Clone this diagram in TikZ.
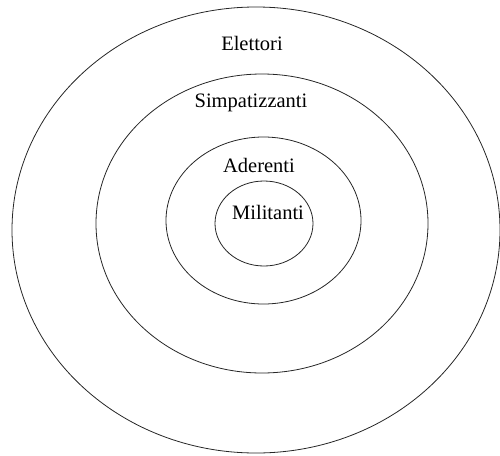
\documentclass[tikz,border=0pt]{standalone}
\usepackage{fontspec}
\setmainfont{Liberation Serif}
\usepackage{tikz}
\usetikzlibrary{positioning, shapes.geometric}

\begin{document}
\begin{tikzpicture}[
  x=1pt, y=-1pt,
  ring/.style={ellipse, draw=black!85, line width=0.8pt, inner sep=0pt},
  label/.style={font=\fontsize{20.5}{24}\selectfont, inner sep=0pt}
]
\useasboundingbox (0,0) rectangle (500,455);
\clip (0,0) rectangle (500,455);
% rings, outside in
\node[ring, minimum width=488pt, minimum height=446pt] (elettori)      at (256,230)   {};
\node[ring, minimum width=332pt, minimum height=299pt] (simpatizzanti) at (262,223.5) {};
\node[ring, minimum width=195pt, minimum height=167pt] (aderenti)      at (263.5,220.5) {};
\node[ring, minimum width=98pt,  minimum height=85pt]  (militanti)     at (264,223.5) {};

\node[label] (t1) at (252,43)  {Elettori};
\node[label] (t2) at (251,103) {Simpatizzanti};
\node[label] (t3) at (259,165) {Aderenti};
\node[label] (t4) at (268,212) {Militanti};
\end{tikzpicture}
\end{document}
